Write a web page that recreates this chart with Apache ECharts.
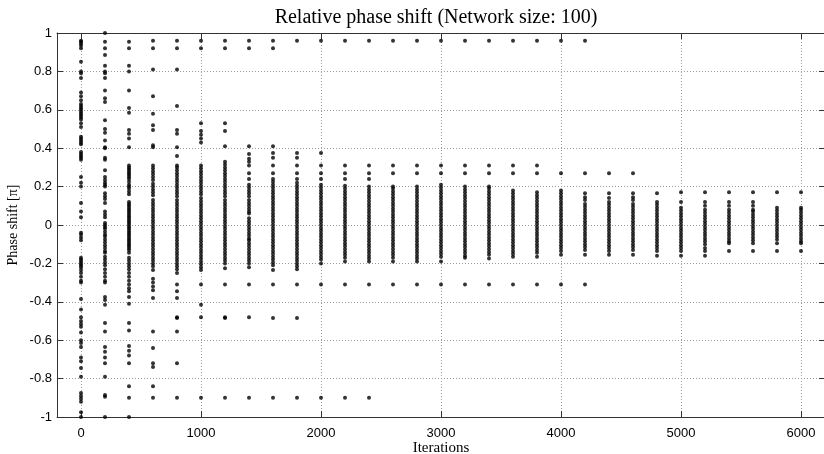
<!DOCTYPE html>
<html>
<head>
<meta charset="utf-8">
<script src="https://cdn.jsdelivr.net/npm/echarts@6/dist/echarts.min.js"></script>
<style>html,body{margin:0;padding:0;background:#fff}#c{width:824px;height:454px}</style>
</head>
<body>
<div id="c"></div>
<script>
const titleText = 'Relative phase shift (Network size: 100)';
const xName = 'Iterations';
const yName = 'Phase shift [\u03c0]';
const xTicks = [0, 1000, 2000, 3000, 4000, 5000, 6000];
const iterations = [0,200,400,600,800,1000,1200,1400,1600,1800,2000,2200,2400,2600,2800,3000,3200,3400,3600,3800,4000,4200,4400,4600,4800,5000,5200,5400,5600,5800,6000];

const p0 = [0.96,0.955,0.945,0.935,0.92,0.85,0.80,0.79,0.765,0.69,0.67,0.65,0.63,0.62,0.61,0.60,0.59,0.58,0.57,0.56,0.55,0.53,0.51,0.46,0.45,0.44,0.43,0.42,0.38,0.37,0.36,0.35,0.34,0.25,0.22,0.20,0.115,0.07,0.04,-0.04,-0.05,-0.065,-0.08,-0.17,-0.18,-0.19,-0.20,-0.21,-0.22,-0.235,-0.25,-0.27,-0.29,-0.30,-0.385,-0.44,-0.48,-0.50,-0.515,-0.53,-0.56,-0.60,-0.615,-0.635,-0.69,-0.71,-0.745,-0.79,-0.875,-0.89,-0.905,-0.92,-0.975,-1.0];
const p200 = [1.0,0.955,0.92,0.885,0.83,0.80,0.79,0.765,0.70,0.66,0.64,0.545,0.50,0.48,0.44,0.405,0.40,0.35,0.34,0.285,0.25,0.235,0.22,0.21,0.20,0.165,0.15,0.135,0.115,0.07,0.055,0.04,0.01,0.0,-0.01,-0.02,-0.035,-0.05,-0.06,-0.075,-0.09,-0.105,-0.12,-0.135,-0.145,-0.165,-0.18,-0.195,-0.21,-0.23,-0.25,-0.27,-0.29,-0.30,-0.375,-0.39,-0.415,-0.51,-0.555,-0.635,-0.66,-0.69,-0.72,-0.79,-0.885,-0.895,-1.0];
const p400 = [0.955,0.92,0.83,0.80,0.70,0.61,0.585,0.495,0.475,0.45,0.405,0.31,0.30,0.29,0.28,0.27,0.26,0.25,0.24,0.225,0.21,0.20,0.19,0.175,0.16,0.12,0.11,0.10,0.09,0.08,0.07,0.06,0.05,0.04,0.03,0.02,0.01,0.0,-0.01,-0.02,-0.03,-0.04,-0.05,-0.06,-0.07,-0.08,-0.09,-0.10,-0.11,-0.12,-0.13,-0.145,-0.17,-0.185,-0.20,-0.215,-0.23,-0.25,-0.27,-0.29,-0.31,-0.33,-0.345,-0.375,-0.41,-0.51,-0.55,-0.63,-0.655,-0.68,-0.72,-0.84,-0.90,-1.0];
const p600 = [0.96,0.92,0.81,0.67,0.58,0.52,0.495,0.415,0.405,0.31,0.295,0.28,0.265,0.25,0.235,0.215,0.2,0.185,0.17,0.155,0.13,0.115,0.1,0.085,0.07,0.055,0.04,0.025,0.01,-0.005,-0.02,-0.035,-0.05,-0.065,-0.08,-0.095,-0.11,-0.125,-0.14,-0.155,-0.17,-0.185,-0.2,-0.215,-0.235,-0.28,-0.30,-0.32,-0.34,-0.38,-0.555,-0.64,-0.72,-0.74,-0.84,-0.90];
const p800 = [0.96,0.92,0.81,0.62,0.495,0.475,0.405,0.36,0.31,0.3,0.285,0.27,0.255,0.24,0.225,0.21,0.195,0.18,0.165,0.15,0.13,0.115,0.1,0.085,0.07,0.055,0.04,0.025,0.01,-0.005,-0.02,-0.035,-0.05,-0.065,-0.08,-0.095,-0.11,-0.125,-0.14,-0.155,-0.17,-0.185,-0.2,-0.215,-0.23,-0.25,-0.31,-0.345,-0.38,-0.48,-0.485,-0.555,-0.72,-0.90];
const p1000 = [0.96,0.92,0.53,0.49,0.47,0.45,0.43,0.31,0.295,0.28,0.265,0.25,0.235,0.22,0.205,0.19,0.175,0.16,0.14,0.125,0.11,0.095,0.08,0.065,0.05,0.035,0.02,0.005,-0.01,-0.025,-0.04,-0.055,-0.07,-0.085,-0.1,-0.115,-0.13,-0.145,-0.16,-0.175,-0.19,-0.205,-0.22,-0.235,-0.31,-0.415,-0.48,-0.90];
const p1200 = [0.96,0.92,0.53,0.49,0.41,0.33,0.315,0.3,0.285,0.27,0.255,0.24,0.225,0.21,0.195,0.18,0.165,0.15,0.13,0.115,0.1,0.085,0.07,0.055,0.04,0.025,0.01,-0.005,-0.02,-0.035,-0.05,-0.065,-0.08,-0.095,-0.11,-0.125,-0.14,-0.155,-0.17,-0.185,-0.2,-0.225,-0.31,-0.48,-0.485,-0.90];
const p1400 = [0.96,0.92,0.41,0.37,0.345,0.33,0.31,0.27,0.24,0.21,0.195,0.18,0.165,0.15,0.13,0.115,0.1,0.085,0.07,0.06,0.035,0.02,0.005,-0.01,-0.025,-0.04,-0.055,-0.07,-0.08,-0.095,-0.11,-0.125,-0.14,-0.155,-0.17,-0.185,-0.2,-0.22,-0.31,-0.48,-0.90];
const p1600 = [0.96,0.92,0.41,0.375,0.35,0.31,0.27,0.24,0.225,0.21,0.195,0.18,0.165,0.15,0.135,0.12,0.105,0.09,0.075,0.06,0.045,0.03,0.015,0,-0.015,-0.03,-0.045,-0.06,-0.075,-0.09,-0.105,-0.12,-0.135,-0.15,-0.165,-0.18,-0.195,-0.21,-0.235,-0.31,-0.485,-0.90];
const p1800 = [0.96,0.375,0.35,0.31,0.27,0.24,0.22,0.205,0.19,0.175,0.16,0.145,0.13,0.115,0.1,0.085,0.07,0.055,0.04,0.025,0.01,-0.005,-0.02,-0.035,-0.05,-0.065,-0.08,-0.095,-0.11,-0.125,-0.14,-0.155,-0.17,-0.185,-0.2,-0.215,-0.23,-0.31,-0.485,-0.90];
const p2000 = [0.96,0.375,0.31,0.27,0.24,0.21,0.195,0.18,0.165,0.15,0.135,0.12,0.105,0.09,0.075,0.06,0.045,0.03,0.015,0,-0.015,-0.03,-0.045,-0.06,-0.075,-0.09,-0.105,-0.12,-0.135,-0.15,-0.165,-0.18,-0.2,-0.31,-0.90];
const p2200 = [0.96,0.31,0.27,0.24,0.205,0.19,0.175,0.16,0.145,0.13,0.115,0.1,0.085,0.07,0.055,0.04,0.025,0.01,-0.005,-0.02,-0.035,-0.05,-0.065,-0.08,-0.095,-0.11,-0.125,-0.14,-0.155,-0.17,-0.19,-0.31,-0.90];
const p2400 = [0.96,0.31,0.27,0.24,0.2,0.185,0.17,0.155,0.14,0.125,0.11,0.095,0.08,0.065,0.05,0.035,0.02,0.005,-0.01,-0.025,-0.04,-0.055,-0.07,-0.085,-0.1,-0.115,-0.13,-0.145,-0.16,-0.175,-0.19,-0.31,-0.90];
const p2600 = [0.96,0.31,0.27,0.2,0.19,0.175,0.16,0.145,0.13,0.115,0.1,0.085,0.07,0.055,0.04,0.025,0.01,-0.005,-0.02,-0.035,-0.05,-0.065,-0.08,-0.095,-0.11,-0.125,-0.14,-0.155,-0.17,-0.19,-0.31];
const p2800 = [0.96,0.31,0.27,0.2,0.185,0.17,0.155,0.14,0.125,0.11,0.095,0.08,0.065,0.05,0.035,0.02,0.005,-0.01,-0.025,-0.04,-0.055,-0.07,-0.085,-0.1,-0.115,-0.13,-0.145,-0.16,-0.175,-0.19,-0.31];
const p3000 = [0.96,0.31,0.27,0.21,0.195,0.18,0.165,0.15,0.135,0.12,0.105,0.09,0.075,0.06,0.045,0.03,0.015,0,-0.015,-0.03,-0.045,-0.06,-0.075,-0.09,-0.105,-0.12,-0.135,-0.15,-0.165,-0.19,-0.31];
const p3200 = [0.96,0.31,0.27,0.2,0.185,0.17,0.155,0.14,0.125,0.11,0.095,0.08,0.065,0.05,0.035,0.02,0.005,-0.01,-0.025,-0.04,-0.055,-0.07,-0.085,-0.1,-0.115,-0.13,-0.145,-0.16,-0.17,-0.31];
const p3400 = [0.96,0.31,0.27,0.2,0.19,0.175,0.16,0.145,0.13,0.115,0.1,0.085,0.07,0.055,0.04,0.025,0.01,-0.005,-0.02,-0.035,-0.05,-0.065,-0.08,-0.095,-0.11,-0.125,-0.14,-0.155,-0.175,-0.31];
const p3600 = [0.96,0.31,0.27,0.18,0.165,0.15,0.135,0.12,0.105,0.09,0.075,0.06,0.045,0.03,0.015,0,-0.015,-0.03,-0.045,-0.06,-0.075,-0.09,-0.105,-0.12,-0.135,-0.15,-0.165,-0.31];
const p3800 = [0.96,0.31,0.27,0.17,0.155,0.14,0.125,0.11,0.095,0.08,0.065,0.05,0.035,0.02,0.005,-0.01,-0.025,-0.04,-0.055,-0.07,-0.085,-0.1,-0.115,-0.13,-0.145,-0.165,-0.31];
const p4000 = [0.96,0.27,0.18,0.165,0.15,0.135,0.12,0.105,0.09,0.075,0.06,0.045,0.03,0.015,0,-0.015,-0.03,-0.045,-0.06,-0.075,-0.09,-0.105,-0.12,-0.135,-0.155,-0.31];
const p4200 = [0.96,0.27,0.165,0.145,0.13,0.11,0.095,0.08,0.065,0.05,0.035,0.02,0.005,-0.01,-0.025,-0.04,-0.055,-0.07,-0.085,-0.1,-0.115,-0.13,-0.155,-0.31];
const p4400 = [0.27,0.165,0.14,0.12,0.105,0.09,0.075,0.06,0.045,0.03,0.015,0,-0.015,-0.03,-0.045,-0.06,-0.075,-0.09,-0.105,-0.12,-0.135,-0.155];
const p4600 = [0.27,0.165,0.145,0.13,0.11,0.095,0.08,0.065,0.05,0.035,0.02,0.005,-0.01,-0.025,-0.04,-0.055,-0.07,-0.085,-0.1,-0.115,-0.13,-0.155];
const p4800 = [0.165,0.12,0.105,0.09,0.075,0.06,0.045,0.03,0.015,0,-0.015,-0.03,-0.045,-0.06,-0.075,-0.09,-0.105,-0.12,-0.135,-0.16];
const p5000 = [0.17,0.12,0.09,0.075,0.06,0.045,0.03,0.015,0,-0.015,-0.03,-0.045,-0.06,-0.075,-0.09,-0.105,-0.12,-0.135,-0.16];
const p5200 = [0.17,0.12,0.1,0.08,0.065,0.05,0.035,0.02,0.005,-0.01,-0.025,-0.04,-0.055,-0.07,-0.085,-0.1,-0.12,-0.135,-0.16];
const p5400 = [0.17,0.12,0.1,0.08,0.065,0.05,0.035,0.02,0.005,-0.01,-0.025,-0.04,-0.055,-0.07,-0.085,-0.095,-0.135];
const p5600 = [0.17,0.12,0.1,0.08,0.07,0.055,0.04,0.025,0.01,-0.005,-0.02,-0.035,-0.05,-0.065,-0.08,-0.095,-0.135];
const p5800 = [0.17,0.09,0.075,0.06,0.045,0.03,0.015,0,-0.015,-0.03,-0.045,-0.06,-0.075,-0.095,-0.135];
const p6000 = [0.17,0.09,0.08,0.065,0.05,0.035,0.02,0.005,-0.01,-0.025,-0.04,-0.055,-0.07,-0.085,-0.095,-0.135];

const columns = [p0,p200,p400,p600,p800,p1000,p1200,p1400,p1600,p1800,p2000,p2200,p2400,p2600,p2800,p3000,p3200,p3400,p3600,p3800,p4000,p4200,p4400,p4600,p4800,p5000,p5200,p5400,p5600,p5800,p6000];

const points = [];
columns.forEach((col, i) => col.forEach(v => points.push([iterations[i], v])));

const grid = '#9a9a9a';
const axisCol = '#333';
const chart = echarts.init(document.getElementById('c'), null, {renderer: 'canvas'});
chart.setOption({
  animation: false,
  backgroundColor: '#fff',
  title: {
    text: titleText, left: 431, top: 3, textAlign: 'center',
    textStyle: {fontFamily: 'Liberation Serif', fontSize: 20, fontWeight: 'normal', color: '#000'}
  },
  grid: {left: 57, top: 33, width: 768, height: 384, containLabel: false, outerBoundsMode: 'none'},
  xAxis: [{
    type: 'value', min: -200, max: 6200, position: 'bottom',
    name: xName, nameLocation: 'middle', nameGap: 24, nameMoveOverlap: false,
    nameTextStyle: {fontFamily: 'Liberation Serif', fontSize: 15, color: '#000', verticalAlign: 'top'},
    axisLine: {show: true, onZero: false, lineStyle: {color: axisCol, width: 1}},
    axisTick: {show: true, inside: true, length: 6, customValues: xTicks, lineStyle: {color: axisCol}},
    axisLabel: {customValues: xTicks, fontFamily: 'Liberation Sans', fontSize: 13, color: '#000', margin: 10,
      formatter: v => String(v)},
    splitLine: {show: true, lineStyle: {color: grid, type: [1, 2], width: 1}}
  }, {
    type: 'value', min: -200, max: 6200, position: 'top',
    axisLine: {show: true, onZero: false, lineStyle: {color: axisCol, width: 1}},
    axisTick: {show: true, inside: true, length: 6, customValues: xTicks, lineStyle: {color: axisCol}},
    axisLabel: {show: false}, splitLine: {show: false}
  }],
  yAxis: [{
    type: 'value', min: -1, max: 1, interval: 0.2, position: 'left',
    name: yName, nameLocation: 'middle', nameGap: 37, nameMoveOverlap: false,
    nameTextStyle: {fontFamily: 'Liberation Serif', fontSize: 14, color: '#000'},
    axisLine: {show: true, onZero: false, lineStyle: {color: axisCol, width: 1}},
    axisTick: {show: true, inside: true, length: 6, lineStyle: {color: axisCol}},
    axisLabel: {fontFamily: 'Liberation Sans', fontSize: 13, color: '#000', margin: 5,
      formatter: v => String(Math.round(v * 10) / 10)},
    splitLine: {show: true, lineStyle: {color: grid, type: [1, 2], width: 1}}
  }, {
    type: 'value', min: -1, max: 1, interval: 0.2, position: 'right',
    axisLine: {show: true, onZero: false, lineStyle: {color: axisCol, width: 1}},
    axisTick: {show: true, inside: true, length: 6, lineStyle: {color: axisCol}},
    axisLabel: {show: false}, splitLine: {show: false}
  }],
  series: [{
    type: 'scatter', xAxisIndex: 0, yAxisIndex: 0,
    data: points, symbol: 'circle', symbolSize: 4,
    itemStyle: {color: '#000'}
  }]
});
</script>
</body>
</html>
